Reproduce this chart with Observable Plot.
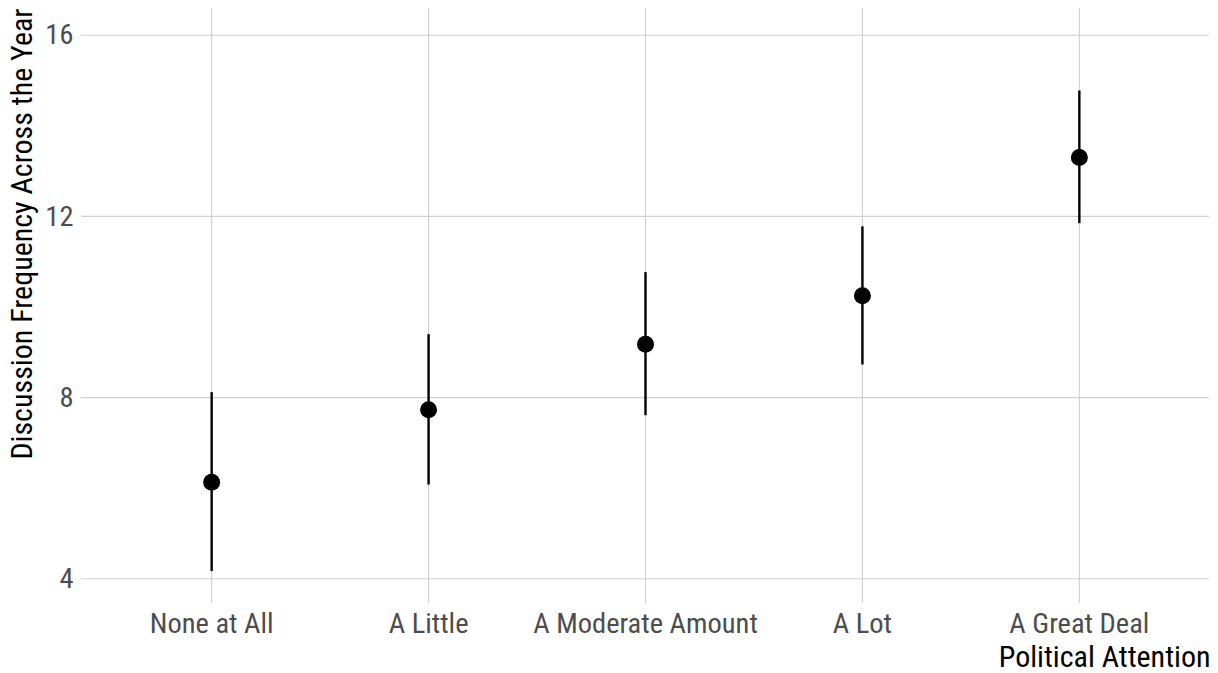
<!DOCTYPE html>
<html>
<head>
<meta charset="utf-8">
<script src="https://cdn.jsdelivr.net/npm/d3@7"></script>
<script src="https://cdn.jsdelivr.net/npm/@observablehq/plot@0.6"></script>
<style>
  html, body { margin: 0; padding: 0; background: #fff; }
  #chart svg { display: block; }
</style>
</head>
<body>
<div id="chart"></div>
<script>
const categories = ["None at All", "A Little", "A Moderate Amount", "A Lot", "A Great Deal"];
const estimates = [6.13, 7.73, 9.18, 10.25, 13.30];
const lower = [4.16, 6.07, 7.60, 8.72, 11.84];
const upper = [8.11, 9.39, 10.76, 11.77, 14.77];
const yTicks = [4, 8, 12, 16];
const xTitle = "Political Attention";
const yTitle = "Discussion Frequency Across the Year";

const data = categories.map((c, i) => ({cat: c, est: estimates[i], lo: lower[i], hi: upper[i]}));

const font = "'Roboto Condensed', 'Liberation Sans Narrow', 'Arial Narrow', 'DejaVu Sans Condensed', sans-serif";

const chart = Plot.plot({
  width: 1218,
  height: 673,
  marginLeft: 81,
  marginRight: 9,
  marginTop: 8,
  marginBottom: 70,
  style: {fontFamily: font, fontSize: "28px", background: "#fff", color: "#000"},
  x: {type: "point", domain: categories, padding: 0.6, round: false, label: null},
  y: {domain: [3.455, 16.59], label: null},
  marks: [
    Plot.gridX({stroke: "#cfcfcf", strokeOpacity: 1, strokeWidth: 1.1}),
    Plot.gridY(yTicks, {stroke: "#cfcfcf", strokeOpacity: 1, strokeWidth: 1.1}),
    Plot.axisX({tickSize: 0, tickPadding: 9, label: null, fill: "#4d4d4d", fontSize: 28.5}),
    Plot.axisY(yTicks, {tickSize: 0, tickPadding: 8, label: null, fill: "#4d4d4d", fontSize: 28.5}),
    Plot.ruleX(data, {x: "cat", y1: "lo", y2: "hi", stroke: "#000", strokeWidth: 2.4}),
    Plot.dot(data, {x: "cat", y: "est", r: 8.5, fill: "#000", stroke: "none"}),
    Plot.text([xTitle], {frameAnchor: "bottom-right", textAnchor: "end", lineAnchor: "middle", dy: 54, dx: 1, fontSize: 30, fill: "#000"}),
    Plot.text([yTitle], {frameAnchor: "top-left", textAnchor: "end", lineAnchor: "middle", rotate: -90, dx: -59, fontSize: 30, fill: "#000"})
  ]
});
document.getElementById("chart").appendChild(chart);
</script>
</body>
</html>
